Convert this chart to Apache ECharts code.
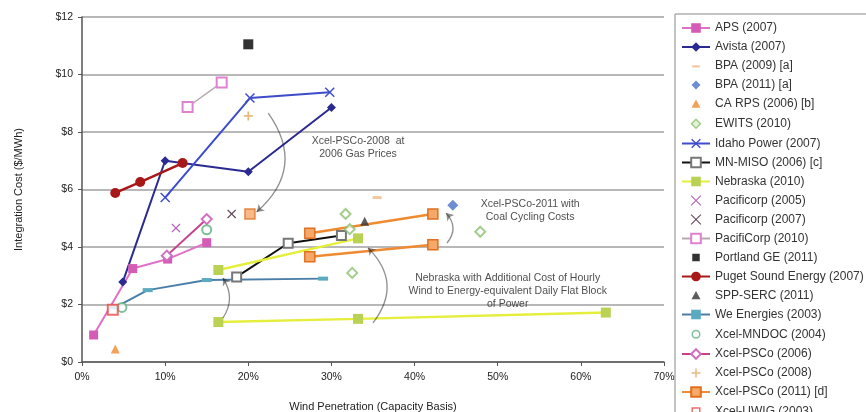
<!DOCTYPE html>
<html>
<head>
<meta charset="utf-8">
<script src="https://cdn.jsdelivr.net/npm/echarts@6/dist/echarts.min.js"></script>
<style>
  html, body { margin: 0; padding: 0; background: #fff; }
  #main { width: 866px; height: 412px; }
</style>
</head>
<body>
<div id="main"></div>
<script>
// integration cost vs wind penetration, points are [penetration %, $/MWh]
var aps2007 = [[1.4, 0.94], [6.1, 3.25], [10.3, 3.58], [15.0, 4.15]];
var avista2007 = [[4.9, 2.78], [10.0, 7.0], [20.0, 6.62], [30.0, 8.85]];
var bpa2009 = [[35.5, 5.72]];
var bpa2011 = [[44.6, 5.45]];
var caRps2006 = [[4.0, 0.45]];
var ewits2010 = [[31.7, 5.15], [32.2, 4.62], [47.9, 4.53], [32.5, 3.1]];
var idaho2007 = [[10.0, 5.72], [20.2, 9.18], [29.8, 9.38]];
var mnMiso2006 = [[18.6, 2.96], [24.8, 4.13], [31.2, 4.4]];
var nebraska2010 = [[16.4, 1.39], [33.2, 1.5], [63.0, 1.72]];
var nebraskaFlat = [[16.4, 3.2], [33.2, 4.3]];
var pacificorp2005 = [[11.3, 4.66]];
var pacificorp2007 = [[18.0, 5.15]];
var pacificorp2010 = [[12.7, 8.87], [16.8, 9.72]];
var portland2011 = [[20.0, 11.05]];
var puget2007 = [[4.0, 5.88], [7.0, 6.26], [12.1, 6.92]];
var sppSerc2011 = [[34.0, 4.9]];
var weEnergies2003 = [[4.0, 1.9], [7.9, 2.5], [15.0, 2.85], [29.0, 2.9]];
var xcelMndoc2004 = [[4.8, 1.9], [15.0, 4.6]];
var xcelPsco2006 = [[10.2, 3.7], [15.0, 4.97]];
var xcelPsco2008 = [[20.0, 8.56]];
var xcelPsco2008Gas06 = [[20.2, 5.15]];   // at 2006 gas prices
var xcelPsco2011 = [[27.4, 4.48], [42.2, 5.15]];
var xcelPsco2011Lo = [[27.4, 3.66], [42.2, 4.08]];
var xcelUwig2003 = [[3.7, 1.82]];

var xTicks = [0, 10, 20, 30, 40, 50, 60, 70];
var yTicks = [0, 2, 4, 6, 8, 10, 12];

// callout texts and where they sit
var noteTexts = [
  'Xcel-PSCo-2008  at\n2006 Gas Prices',
  'Xcel-PSCo-2011 with\nCoal Cycling Costs',
  'Nebraska with Additional Cost of Hourly\nWind to Energy-equivalent Daily Flat Block\nof Power'
];
var notePos = [[33.2, 7.46], [53.9, 5.25], [51.2, 2.47]];
var arrowFrom = [[22.4, 8.66], [16.95, 1.53], [35.0, 1.36], [43.9, 4.14]];
var arrowTo = [[21.0, 5.22], [16.95, 2.92], [34.4, 3.97], [43.8, 5.18]];
var arrowBend = [0.45, -0.33, -0.44, -0.43];

var X_MARK = 'path://M1,0L5,4L9,0L10,1L6,5L10,9L9,10L5,6L1,10L0,9L4,5L0,1Z';
var PLUS = 'path://M4,0H6V4H10V6H6V10H4V6H0V4H4Z';

// small legend icons (padded box so they don't fill the whole item)
var PAD = 'path://M2,2M18,18';
var legendIcons = {
  'BPA (2009) [a]': PAD + 'M5,9H15V12H5Z',
  'BPA (2011) [a]': PAD + 'M10,4L16,10L10,16L4,10Z',
  'CA RPS (2006) [b]': PAD + 'M10,4L16,15H4Z',
  'EWITS (2010)': PAD + 'M10,4L16,10L10,16L4,10Z',
  'Pacificorp (2005)': PAD + 'M4,3L10,9L16,3L17,4L11,10L17,16L16,17L10,11L4,17L3,16L9,10L3,4Z',
  'Pacificorp (2007)': PAD + 'M4,3L10,9L16,3L17,4L11,10L17,16L16,17L10,11L4,17L3,16L9,10L3,4Z',
  'Portland GE (2011)': PAD + 'M5,5H15V15H5Z',
  'SPP-SERC (2011)': PAD + 'M10,4L16,15H4Z',
  'Xcel-MNDOC (2004)': PAD + 'M10,5A5,5 0 1,1 10,15A5,5 0 1,1 10,5Z',
  'Xcel-PSCo (2008)': PAD + 'M9,4H11V9H16V11H11V16H9V11H4V9H9Z',
  'Xcel-UWIG (2003)': PAD + 'M5,5H15V15H5Z'
};
// open markers in the legend
var legendIconStyle = {
  'EWITS (2010)': { color: '#dff0d0', borderColor: '#8cc070', borderWidth: 1.5 },
  'Xcel-MNDOC (2004)': { color: '#fff', borderColor: '#5cb080', borderWidth: 1.5 },
  'Xcel-UWIG (2003)': { color: '#fff', borderColor: '#e84848', borderWidth: 1.5 }
};

function lineS(name, data, color, symbol, size, mk, lw) {
  return {
    name: name, type: 'line', data: data, symbol: symbol, symbolSize: size,
    lineStyle: { color: color, width: lw || 2 },
    itemStyle: mk || { color: color },
    z: 3
  };
}
function dotS(name, data, symbol, size, style) {
  return { name: name, type: 'scatter', data: data, symbol: symbol, symbolSize: size, itemStyle: style, z: 4 };
}

var legendNames = ['APS (2007)', 'Avista (2007)', 'BPA (2009) [a]', 'BPA (2011) [a]', 'CA RPS (2006) [b]',
  'EWITS (2010)', 'Idaho Power (2007)', 'MN-MISO (2006) [c]', 'Nebraska (2010)', 'Pacificorp (2005)',
  'Pacificorp (2007)', 'PacifiCorp (2010)', 'Portland GE (2011)', 'Puget Sound Energy (2007)', 'SPP-SERC (2011)',
  'We Energies (2003)', 'Xcel-MNDOC (2004)', 'Xcel-PSCo (2006)', 'Xcel-PSCo (2008)', 'Xcel-PSCo (2011) [d]',
  'Xcel-UWIG (2003)'];

var psco11Mark = { color: '#f5a868', borderColor: '#e07020', borderWidth: 1.5 };

var series = [
  lineS('APS (2007)', aps2007, '#e070c8', 'rect', 9, { color: '#d45cb6' }),
  lineS('Avista (2007)', avista2007, '#2a2a90', 'diamond', 9),
  dotS('BPA (2009) [a]', bpa2009, 'rect', [9, 3], { color: '#f3b98a' }),
  dotS('BPA (2011) [a]', bpa2011, 'diamond', 11, { color: '#4a72c8' }),
  dotS('CA RPS (2006) [b]', caRps2006, 'triangle', 9, { color: '#f08a2c' }),
  dotS('EWITS (2010)', ewits2010, 'emptyDiamond', 10, { color: '#8cc070', borderColor: '#8cc070', borderWidth: 2 }),
  lineS('Idaho Power (2007)', idaho2007, '#3c4ccc', X_MARK, 10),
  lineS('MN-MISO (2006) [c]', mnMiso2006, '#111', 'emptyRect', 9, { color: '#777', borderColor: '#777', borderWidth: 2 }),
  lineS('Nebraska (2010)', nebraska2010, '#e6ee3c', 'rect', 10, { color: '#b9d253' }, 2.5),
  lineS('Nebraska (2010)', nebraskaFlat, '#e6ee3c', 'rect', 10, { color: '#b9d253' }, 2.5),
  dotS('Pacificorp (2005)', pacificorp2005, X_MARK, 9, { color: '#a040a8' }),
  dotS('Pacificorp (2007)', pacificorp2007, X_MARK, 9, { color: '#3a1c30' }),
  lineS('PacifiCorp (2010)', pacificorp2010, '#b8a8b0', 'emptyRect', 10, { color: '#e080d0', borderColor: '#e080d0', borderWidth: 2 }, 1.5),
  dotS('Portland GE (2011)', portland2011, 'rect', 10, { color: '#000' }),
  lineS('Puget Sound Energy (2007)', puget2007, '#a81818', 'circle', 10, null, 2.5),
  dotS('SPP-SERC (2011)', sppSerc2011, 'triangle', 9, { color: '#333' }),
  lineS('We Energies (2003)', weEnergies2003, '#4a7ea8', 'rect', [10, 4], { color: '#5aaac0' }),
  dotS('Xcel-MNDOC (2004)', xcelMndoc2004, 'emptyCircle', 9, { color: '#5cb080', borderColor: '#5cb080', borderWidth: 2 }),
  lineS('Xcel-PSCo (2006)', xcelPsco2006, '#c8408a', 'emptyDiamond', 10, { color: '#d070c0', borderColor: '#d070c0', borderWidth: 2 }),
  dotS('Xcel-PSCo (2008)', xcelPsco2008, PLUS, 9, { color: '#e0a860' }),
  dotS('Xcel-PSCo (2008)', xcelPsco2008Gas06, 'rect', 10, psco11Mark),
  lineS('Xcel-PSCo (2011) [d]', xcelPsco2011, '#f08a30', 'rect', 10, psco11Mark, 2.5),
  lineS('Xcel-PSCo (2011) [d]', xcelPsco2011Lo, '#f08a30', 'rect', 10, psco11Mark, 2.5),
  dotS('Xcel-UWIG (2003)', xcelUwig2003, 'emptyRect', 10, { color: '#e84848', borderColor: '#e84848', borderWidth: 2 }),
  {
    name: 'notes', type: 'scatter', silent: true, symbolSize: 1, z: 6,
    itemStyle: { color: 'transparent' },
    data: notePos.map(function (p, i) { return { value: p, text: noteTexts[i] }; }),
    label: {
      show: true, position: 'inside', align: 'center',
      formatter: function (p) { return p.data.text; },
      color: '#222', fontSize: 10.5, lineHeight: 13
    }
  },
  {
    name: 'arrows', type: 'lines', coordinateSystem: 'cartesian2d', silent: true, z: 6,
    symbol: ['none', 'arrow'], symbolSize: 7,
    data: arrowFrom.map(function (p, i) {
      return { coords: [p, arrowTo[i]], lineStyle: { color: '#222', width: 1.3, curveness: arrowBend[i] } };
    })
  }
];

var chart = echarts.init(document.getElementById('main'));
chart.setOption({
  animation: false,
  backgroundColor: '#fff',
  textStyle: { fontFamily: 'Liberation Sans, Arial' },
  grid: { left: 82, right: 202, top: 17, bottom: 50, outerBoundsMode: 'none' },
  xAxis: {
    type: 'value', min: xTicks[0], max: xTicks[xTicks.length - 1], interval: 10,
    name: 'Wind Penetration (Capacity Basis)', nameLocation: 'middle', nameGap: 39,
    nameTextStyle: { fontSize: 11, color: '#222' },
    axisLine: { lineStyle: { color: '#555', width: 1.5 } },
    axisTick: { show: true, length: 4, lineStyle: { color: '#555' } },
    axisLabel: { formatter: '{value}%', fontSize: 10.5, color: '#222', margin: 10 },
    splitLine: { show: false }
  },
  yAxis: {
    type: 'value', min: yTicks[0], max: yTicks[yTicks.length - 1], interval: 2,
    name: 'Integration Cost ($/MWh)', nameLocation: 'middle', nameGap: 58,
    nameTextStyle: { fontSize: 11, color: '#222' },
    axisLine: { show: true, lineStyle: { color: '#555', width: 1.5 } },
    axisTick: { show: true, length: 4, lineStyle: { color: '#555' } },
    axisLabel: { formatter: '${value}', fontSize: 10.5, color: '#222', margin: 9 },
    splitLine: { lineStyle: { color: '#a0a0a0', width: 1.5 } }
  },
  legend: {
    data: legendNames.map(function (n) {
      var item = { name: n };
      if (legendIcons[n]) item.icon = legendIcons[n];
      if (legendIconStyle[n]) item.itemStyle = legendIconStyle[n];
      return item;
    }),
    orient: 'vertical', left: 675, top: 14, height: 600,
    padding: [8, 4, 6, 6], itemGap: 7.0, itemWidth: 28, itemHeight: 12,
    backgroundColor: '#fff', borderColor: '#888', borderWidth: 1,
    textStyle: { fontSize: 12, color: '#333', lineHeight: 12 }
  },
  series: series
});
</script>
</body>
</html>
